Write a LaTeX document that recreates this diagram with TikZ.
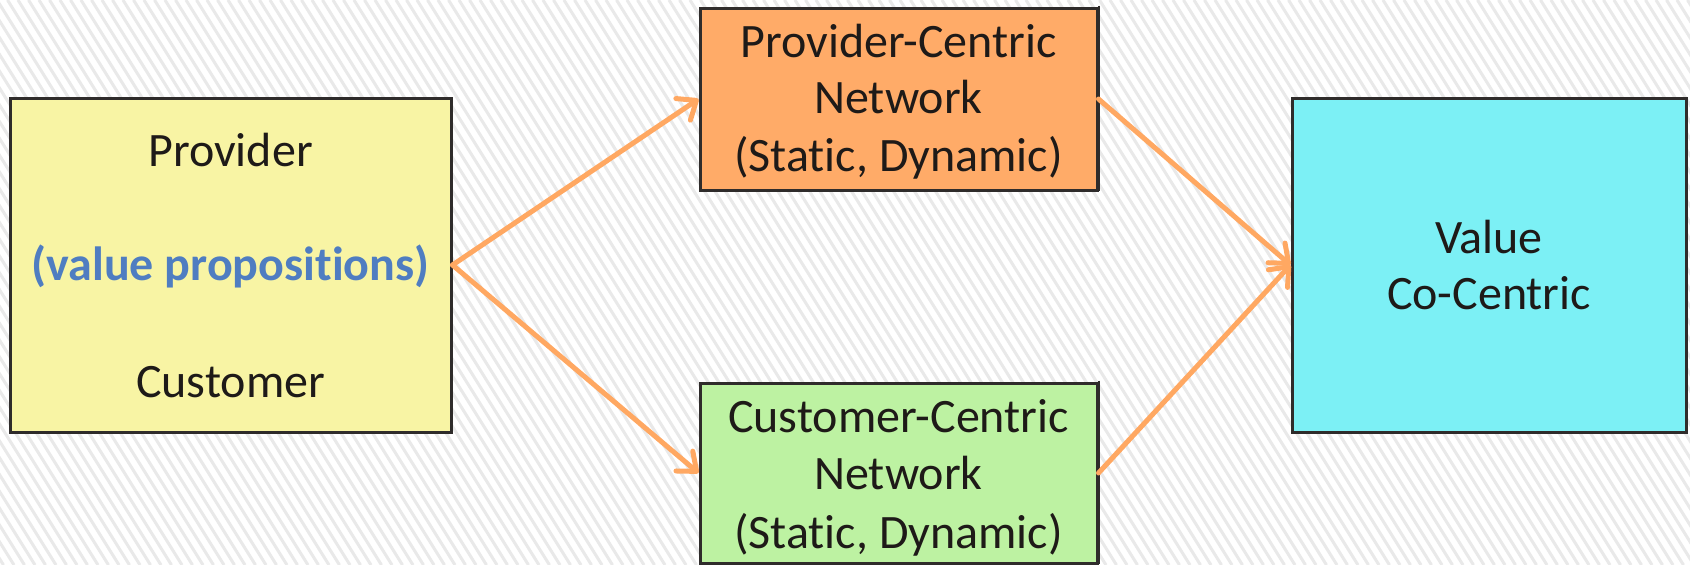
\documentclass[tikz,border=0pt]{standalone}
\usepackage{fontspec}
\setmainfont{Carlito}[Ligatures=NoCommon]
\usetikzlibrary{arrows.meta}

\definecolor{stripe}{HTML}{E9E9E9}
\definecolor{boxline}{HTML}{2F2C2B}
\definecolor{inkdark}{HTML}{1E1A18}
\definecolor{yellowfill}{HTML}{F8F4A4}
\definecolor{orangefill}{HTML}{FFAB68}
\definecolor{greenfill}{HTML}{BDF2A2}
\definecolor{cyanfill}{HTML}{7CF0F5}
\definecolor{propblue}{HTML}{4F7DC1}
\definecolor{flow}{HTML}{FFA862}

\tikzset{
  panel/.style={draw=boxline, line width=3pt, rectangle, inner sep=0pt},
  boxtext/.style={anchor=base, inner sep=0pt, text=inkdark, font=\fontsize{48}{58}\selectfont},
  flowarrow/.style={draw=flow, line width=5pt, line cap=round,
    -{Straight Barb[length=16pt, width=26pt, line cap=round, line join=round]}},
}

\begin{document}
\begin{tikzpicture}[x=1pt, y=-1pt]
  % page area and hatched backdrop
  \useasboundingbox (0,0) rectangle (1690,565);
  \fill[white] (0,0) rectangle (1690,565);
  \begin{scope}
    \clip (0,0) rectangle (1690,565);
    \foreach \s in {-360,-349.5,...,1700}
      \draw[stripe, line width=3pt] (\s,0) -- ++(353,565);
  \end{scope}

  % boxes
  \node[panel, fill=yellowfill, minimum width=441pt, minimum height=334pt] (src) at (230.5,265) {};
  \node[panel, fill=orangefill, minimum width=397pt, minimum height=182pt] (prov) at (898.5,99) {};
  \node[panel, fill=greenfill, minimum width=397pt, minimum height=180pt] (cust) at (898.5,473) {};
  \node[panel, fill=cyanfill, minimum width=394pt, minimum height=334pt] (val) at (1489,265) {};

  % slight shadow on the right side of the network boxes
  \draw[boxline, line width=2pt] ([xshift=0.5pt,yshift=1pt]prov.north east) -- ([xshift=0.5pt,yshift=1pt]prov.south east);
  \draw[boxline, line width=2pt] ([xshift=0.5pt,yshift=1pt]cust.north east) -- ([xshift=0.5pt,yshift=1pt]cust.south east);

  % texts
  \node[boxtext] (srcA) at (230.5,166) {Provider};
  \node[boxtext, text=propblue, font=\fontsize{48}{58}\selectfont\bfseries] (srcB) at (230.5,280) {(value propositions)};
  \node[boxtext] (srcC) at (230.5,397) {Customer};

  \node[boxtext] (provA) at (898.5,57) {Provider-Centric};
  \node[boxtext] (provB) at (898.5,113) {Network};
  \node[boxtext] (provC) at (898.5,171) {(Static, Dynamic)};

  \node[boxtext] (custA) at (898.5,432) {Customer-Centric};
  \node[boxtext] (custB) at (898.5,489) {Network};
  \node[boxtext] (custC) at (898.5,548) {(Static, Dynamic)};

  \node[boxtext] (valA) at (1489,253) {Value};
  \node[boxtext] (valB) at (1489,309) {Co-Centric};

  % connectors
  \draw[flowarrow] (src.east) -- (prov.west);
  \draw[flowarrow] (src.east) -- (cust.west);
  \draw[flowarrow] (prov.east) -- (val.west);
  \draw[flowarrow] (cust.east) -- (val.west);
\end{tikzpicture}
\end{document}
